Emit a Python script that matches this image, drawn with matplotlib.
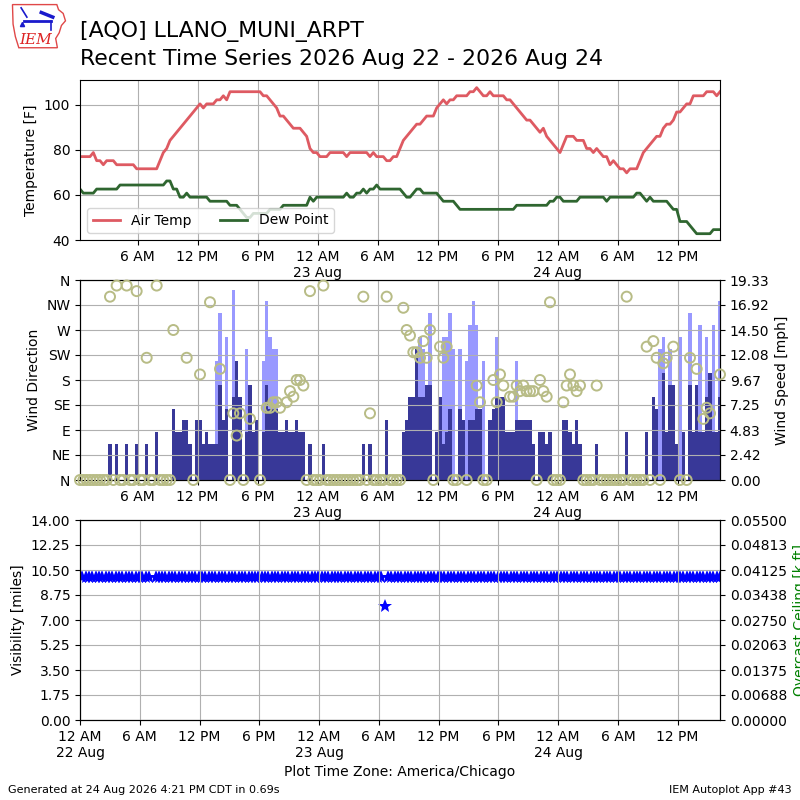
import numpy as np
import pandas as pd
import matplotlib
matplotlib.use("Agg")
import matplotlib.pyplot as plt
from matplotlib.patches import Polygon

# ---------------- data ----------------
station_title = "[AQO] LLANO_MUNI_ARPT"
sub_title = "Recent Time Series 2026 Aug 22 - 2026 Aug 24"
first_obs = "2026-08-22 00:15"
day0 = "2026-08-22 00:00"

# air temperature [C] every 20 minutes
tmpc = [25, 25, 25, 25, 26, 24, 24, 23, 24, 24,
        24, 23, 23, 23, 23, 23, 23, 22, 22, 22,
        22, 22, 22, 22, 24, 26, 27, 29, 30, 31,
        32, 33, 34, 35, 36, 37, 38, 37, 38, 38,
        38, 39, 39, 40, 39, 41, 41, 41, 41, 41,
        41, 41, 41, 41, 41, 40, 40, 39, 38, 37,
        35, 35, 34, 33, 32, 32, 32, 31, 30, 27,
        26, 26, 25, 25, 25, 26, 26, 26, 26, 26,
        25, 26, 26, 26, 26, 26, 26, 25, 26, 25,
        25, 25, 24, 24, 25, 25, 27, 29, 30, 31,
        32, 33, 33, 34, 35, 35, 35, 37, 38, 39,
        38, 39, 39, 40, 40, 40, 40, 41, 41, 42,
        41, 40, 40, 41, 40, 40, 40, 40, 39, 39,
        38, 37, 36, 35, 34, 34, 33, 32, 31, 32,
        30, 29, 28, 27, 26, 28, 30, 30, 30, 29,
        29, 29, 27, 27, 26, 27, 26, 25, 25, 23,
        24, 23, 22, 22, 21, 22, 22, 22, 24, 26,
        27, 28, 29, 30, 30, 32, 33, 33, 34, 36,
        36, 37, 38, 38, 40, 40, 40, 40, 41, 41,
        41, 40, 41]

# dew point [C]
dwpc = [17, 16, 16, 16, 16, 17, 17, 17, 17, 17,
        17, 17, 18, 18, 18, 18, 18, 18, 18, 18,
        18, 18, 18, 18, 18, 18, 19, 19, 17, 17,
        15, 15, 16, 15, 15, 15, 15, 15, 15, 14,
        14, 14, 14, 14, 14, 13, 13, 13, 12, 11,
        10, 10, 11, 11, 11, 11, 11, 12, 12, 12,
        12, 13, 13, 13, 13, 13, 13, 13, 13, 15,
        14, 15, 15, 15, 15, 15, 15, 15, 15, 15,
        16, 15, 15, 16, 16, 17, 16, 17, 17, 18,
        17, 17, 17, 17, 17, 17, 17, 16, 15, 15,
        16, 17, 17, 16, 16, 16, 16, 16, 15, 14,
        14, 14, 14, 13, 12, 12, 12, 12, 12, 12,
        12, 12, 12, 12, 12, 12, 12, 12, 12, 12,
        12, 13, 13, 13, 13, 13, 13, 13, 13, 13,
        13, 14, 14, 15, 15, 14, 14, 14, 14, 14,
        15, 15, 15, 15, 15, 15, 15, 15, 14, 15,
        15, 15, 15, 15, 15, 15, 15, 16, 16, 15,
        14, 15, 14, 14, 14, 14, 14, 13, 12, 12,
        9, 9, 9, 8, 7, 6, 6, 6, 6, 6,
        7, 7, 7]

# wind speed [kt]
sknt = [0, 0, 0, 0, 0, 0, 0, 0, 0, 3,
        0, 3, 0, 0, 3, 0, 0, 3, 0, 0,
        3, 0, 0, 4, 0, 0, 0, 0, 6, 4,
        4, 5, 5, 3, 0, 5, 5, 3, 4, 3,
        3, 3, 8, 5, 6, 0, 7, 10, 7, 0,
        4, 8, 4, 5, 0, 4, 8, 6, 6, 6,
        4, 4, 5, 4, 4, 5, 4, 4, 0, 3,
        0, 0, 0, 3, 0, 0, 0, 0, 0, 0,
        0, 0, 0, 0, 0, 3, 0, 3, 0, 0,
        0, 0, 5, 0, 0, 0, 0, 4, 5, 7,
        7, 11, 7, 7, 8, 8, 0, 4, 7, 3,
        4, 6, 0, 0, 6, 5, 0, 5, 5, 6,
        6, 0, 0, 5, 6, 7, 7, 7, 4, 4,
        4, 5, 5, 5, 5, 5, 3, 0, 4, 4,
        3, 4, 0, 0, 0, 5, 5, 4, 3, 5,
        3, 0, 0, 0, 0, 3, 0, 0, 0, 0,
        0, 0, 0, 0, 4, 0, 0, 0, 0, 0,
        4, 0, 7, 6, 0, 9, 4, 8, 8, 3,
        0, 4, 0, 8, 4, 8, 4, 4, 7, 9,
        4, 4, 7]

# wind gust [kt] (0 = no gust reported)
gust = [0, 0, 0, 0, 0, 0, 0, 0, 0, 0,
        0, 0, 0, 0, 0, 0, 0, 0, 0, 0,
        0, 0, 0, 0, 0, 0, 0, 0, 0, 0,
        0, 0, 0, 0, 0, 0, 0, 0, 0, 0,
        0, 10, 14, 0, 12, 0, 16, 0, 0, 0,
        11, 0, 0, 0, 0, 10, 15, 12, 11, 11,
        0, 0, 0, 0, 0, 0, 0, 0, 0, 0,
        0, 0, 0, 0, 0, 0, 0, 0, 0, 0,
        0, 0, 0, 0, 0, 0, 0, 0, 0, 0,
        0, 0, 0, 0, 0, 0, 0, 0, 0, 0,
        0, 0, 12, 11, 0, 14, 0, 0, 0, 12,
        12, 14, 11, 0, 11, 0, 10, 13, 15, 13,
        0, 10, 0, 0, 0, 12, 0, 0, 0, 0,
        0, 10, 0, 0, 0, 0, 0, 0, 0, 0,
        0, 0, 0, 0, 0, 0, 0, 0, 0, 0,
        0, 0, 0, 0, 0, 0, 0, 0, 0, 0,
        0, 0, 0, 0, 0, 0, 0, 0, 0, 0,
        0, 0, 0, 0, 11, 12, 0, 11, 0, 0,
        12, 0, 0, 14, 0, 0, 13, 0, 12, 0,
        13, 0, 15]

n = np.nan
# wind direction [deg]
drct = [0, 0, 0, 0, 0, 0, 0, 0, 0, 330,
        0, 350, 0, 0, 350, 0, 0, 340, 0, 0,
        220, 0, 0, 350, 0, 0, 0, 0, 270, n,
        n, n, 220, n, 0, n, 190, n, n, 320,
        n, n, 200, n, n, 0, 120, 80, 120, 0,
        n, 110, n, n, 0, n, 130, 130, 140, 140,
        130, n, 140, 160, 150, 180, 180, 170, 0, 340,
        0, 0, 0, 350, 0, 0, 0, 0, 0, 0,
        0, 0, 0, 0, 0, 330, 0, 120, 0, 0,
        0, 0, 330, 0, 0, 0, 0, 310, 270, 260,
        230, 230, 220, 250, 220, 270, 0, n, 240, 220,
        240, n, 0, 0, n, n, 0, n, n, 170,
        140, 0, 0, n, 180, 140, 190, 170, n, 150,
        150, 170, 160, 170, 160, 160, 160, 0, 180, 160,
        150, 320, 0, 0, 0, 140, 170, 190, 170, 160,
        170, 0, 0, 0, 0, 170, 0, 0, 0, 0,
        0, 0, 0, 0, 330, 0, 0, 0, 0, 0,
        240, 0, 250, 220, 0, 210, 220, n, 240, n,
        0, n, 0, 220, n, 200, n, 110, 130, 120,
        n, n, 190]

# visibility [miles]
vis = [10] * 21 + [n] + [10] * 69 + [8] + [10] * 101

dir_labels = ["N", "NE", "E", "SE", "S", "SW", "W", "NW", "N"]
tick_labels = ["12 AM\n22 Aug", "6 AM", "12 PM", "6 PM",
               "12 AM\n23 Aug", "6 AM", "12 PM", "6 PM",
               "12 AM\n24 Aug", "6 AM", "12 PM"]
ceil_labels = ["0.00000", "0.00688", "0.01375", "0.02063", "0.02750",
               "0.03438", "0.04125", "0.04813", "0.05500"]

# ---------------- derived ----------------
times = pd.date_range(first_obs, periods=len(tmpc), freq="20min")
hours = np.asarray((times - pd.Timestamp(day0)) / pd.Timedelta(hours=1), dtype=float)
tmpf = np.array(tmpc) * 9.0 / 5.0 + 32.0
dwpf = np.array(dwpc) * 9.0 / 5.0 + 32.0
smph = np.array(sknt) * 1.15078
gmph = np.array(gust) * 1.15078
drct = np.array(drct, dtype=float)
vis = np.array(vis, dtype=float)
tick_hours = np.arange(0, 6 * len(tick_labels), 6)

# ---------------- figure ----------------
fig = plt.figure(figsize=(8, 8), dpi=100)
ax1 = fig.add_axes([0.1, 0.7, 0.8, 0.2])
ax2 = fig.add_axes([0.1, 0.4, 0.8, 0.25])
ax3 = fig.add_axes([0.1, 0.1, 0.8, 0.25])

# temperatures
ax1.plot(hours, tmpf, color="#de5a62", lw=2, label="Air Temp")
ax1.plot(hours, dwpf, color="#2f6630", lw=2, label="Dew Point")
ax1.set_ylim(40, 111)
ax1.set_yticks([40, 60, 80, 100])
ax1.set_xlim(hours[0], hours[-1])
ax1.set_xticks(tick_hours[1:])
ax1.set_xticklabels(tick_labels[1:])
ax1.grid(True)
ax1.set_ylabel("Temperature [F]")
ax1.legend(loc="lower left", ncol=2, fontsize=10)

# wind
axs = ax2.twinx()
axs.set_zorder(ax2.get_zorder() - 1)
ax2.patch.set_visible(False)
axs.bar(hours, gmph, width=1 / 3.0, color="#9999ff", lw=0)
axs.bar(hours, smph, width=1 / 3.0, color="#383898", lw=0)
spd_top = gmph.max() * 1.05
axs.set_ylim(0, spd_top)
spd_ticks = np.linspace(0, spd_top, 9)
axs.set_yticks(spd_ticks)
axs.set_yticklabels(["%.2f" % v for v in spd_ticks])
axs.set_ylabel("Wind Speed [mph]")
ax2.scatter(hours, drct, s=52, facecolors="none", edgecolors="#b8bc86",
            linewidths=1.4, zorder=3, clip_on=False)
ax2.set_ylim(0, 360)
ax2.set_yticks(np.arange(0, 361, 45))
ax2.set_yticklabels(dir_labels)
ax2.set_ylabel("Wind Direction")
ax2.set_xlim(hours[0], hours[-1])
ax2.set_xticks(tick_hours[1:])
ax2.set_xticklabels(tick_labels[1:])
ax2.grid(True)

# visibility
ax3.plot(hours, vis, "*", color="#0000ff", ms=10, mew=0)
ax3.set_ylim(0, 14)
vticks = np.linspace(0, 14, 9)
ax3.set_yticks(vticks)
ax3.set_yticklabels(["%.2f" % v for v in vticks])
ax3.set_ylabel("Visibility [miles]")
ax3.set_xlim(0, hours[-1])
ax3.set_xticks(tick_hours)
ax3.set_xticklabels(tick_labels)
ax3.set_axisbelow(False)
ax3.grid(True)
ax3.set_xlabel("Plot Time Zone: America/Chicago")
axc = ax3.twinx()
axc.set_ylim(0, 0.055)
axc.set_yticks(np.linspace(0, 0.055, 9))
axc.set_yticklabels(ceil_labels)
axc.set_ylabel("Overcast Ceiling [k ft]", color="green")

# titles and footer
fig.text(0.1, 0.9541, station_title, fontsize=15.8, va="baseline")
fig.text(0.1, 0.9188, sub_title, fontsize=15.8, va="baseline")
fig.text(0.01, 0.0125, "Generated at 24 Aug 2026 4:21 PM CDT in 0.69s",
         fontsize=8, va="center")
fig.text(0.99, 0.0125, "IEM Autoplot App #43", fontsize=8, va="center", ha="right")

# logo
lax = fig.add_axes([0.012, 0.938, 0.072, 0.058])
lax.set_xlim(0, 1)
lax.set_ylim(0, 1)
lax.axis("off")
iowa = [(0.05, 0.97), (0.82, 0.97), (0.85, 0.86), (0.93, 0.78), (0.97, 0.62),
        (0.9, 0.52), (0.86, 0.36), (0.8, 0.24), (0.83, 0.04), (0.16, 0.04),
        (0.1, 0.28), (0.06, 0.55)]
lax.add_patch(Polygon(iowa, closed=True, fill=False, ec="#e04848", lw=1.0))
lax.plot([0.25, 0.72], [0.62, 0.62], color="#1a1acc", lw=2)
lax.plot([0.2, 0.3], [0.9, 0.7], color="#1a1acc", lw=1.2)
lax.plot([0.55, 0.75], [0.8, 0.7], color="#1a1acc", lw=2.5)
lax.plot([0.72, 0.72], [0.62, 0.42], color="#1a1acc", lw=1.2)
lax.plot([0.22], [0.55], "^", color="#1a1acc", ms=3)
lax.text(0.45, 0.2, "IEM", color="#dd2222", fontsize=11, style="italic",
         family="DejaVu Serif", ha="center", va="center")

fig.savefig("out.png", dpi=100)
